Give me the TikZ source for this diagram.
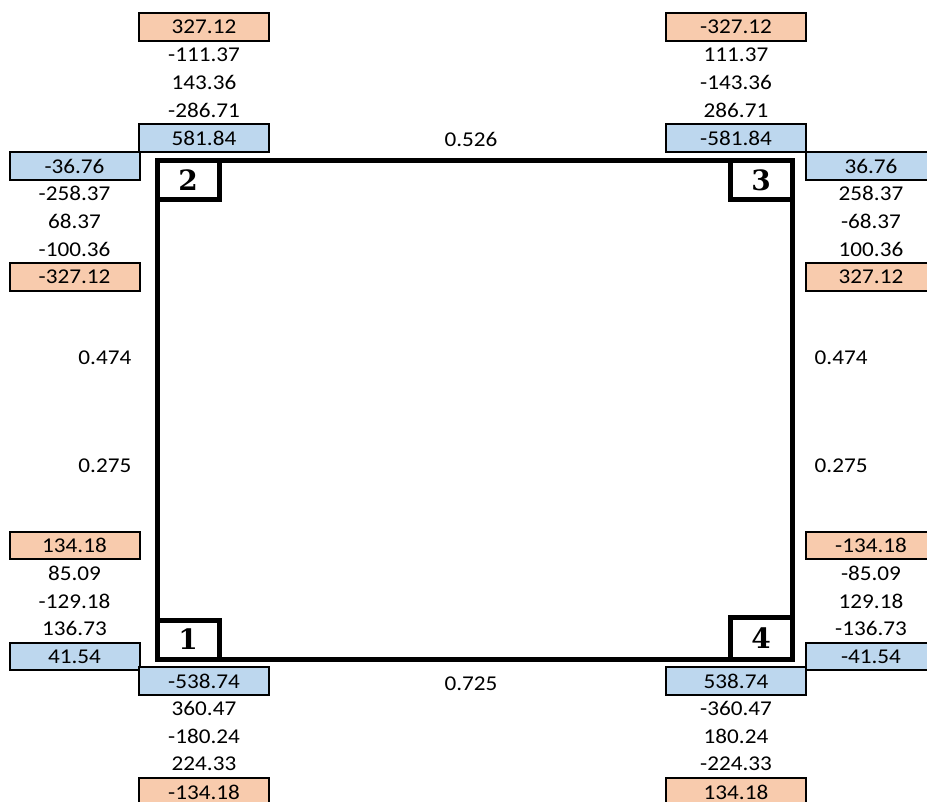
\documentclass[tikz,border=0pt]{standalone}
\usepackage{fontspec}
\setmainfont{Carlito}[FakeStretch=1.1]
\newfontfamily\jointfont{DejaVu Serif}
\usepackage{tikz}
\usetikzlibrary{positioning}

\definecolor{momentfill}{RGB}{248,203,173}
\definecolor{shearfill}{RGB}{189,215,238}

\tikzset{
  val/.style={inner sep=0pt, outer sep=0pt, minimum width=97.5pt, minimum height=20.8pt, font=\fontsize{15.8}{18}\selectfont},
  wide/.style={minimum width=105pt},
  mbox/.style={val, draw, line width=1.5pt, fill=momentfill},
  vbox/.style={val, draw, line width=1.5pt, fill=shearfill},
  joint/.style={draw, line width=3.75pt, inner sep=0pt, outer sep=0pt, minimum width=46.5pt, minimum height=29.25pt, font=\fontsize{21}{24}\selectfont\jointfont\bfseries},
  member/.style={line width=3.75pt, line join=miter}
}

\begin{document}
\begin{tikzpicture}[x=0.75pt, y=-0.75pt, node distance=0pt]
  \clip (0,0) rectangle (927,802);

  % joints
  \node (j2) [joint, anchor=north west] at (157,161) {2};
  \node (j3) [joint, anchor=north east] at (792,161) {3};
  \node (j1) [joint, anchor=south west] at (157,659) {1};
  \node (j4) [joint, anchor=south east, minimum height=31.5pt] at (792,659) {4};

  \draw[member] (j1.south west) -- (j2.north west) -- (j3.north east) -- (j4.south east) -- cycle;

  % member lengths
  \node (l23) at (471,139) {\fontsize{15.8}{18}\selectfont 0.526};
  \node (l14) at (471,684) {\fontsize{15.8}{18}\selectfont 0.725};
  \node (l12a) [anchor=east] at (136,358) {\fontsize{15.8}{18}\selectfont 0.474};
  \node (l12b) [anchor=east] at (136,466) {\fontsize{15.8}{18}\selectfont 0.275};
  \node (l34a) [anchor=west] at (810,358) {\fontsize{15.8}{18}\selectfont 0.474};
  \node (l34b) [anchor=west] at (810,466) {\fontsize{15.8}{18}\selectfont 0.275};

  % joint 2
  \node (up2a) [mbox] at (204,27) {327.12};
  \node (up2b) [below=of up2a, val] {-111.37};
  \node (up2c) [below=of up2b, val] {143.36};
  \node (up2d) [below=of up2c, val] {-286.71};
  \node (up2e) [below=of up2d, vbox] {581.84};
  \node (side2a) [vbox] at (74.5,166) {-36.76};
  \node (side2b) [below=of side2a, val] {-258.37};
  \node (side2c) [below=of side2b, val] {68.37};
  \node (side2d) [below=of side2c, val] {-100.36};
  \node (side2e) [below=of side2d, mbox] {-327.12};

  % joint 3
  \node (up3a) [mbox, wide] at (736,27) {-327.12};
  \node (up3b) [below=of up3a, val, wide] {111.37};
  \node (up3c) [below=of up3b, val, wide] {-143.36};
  \node (up3d) [below=of up3c, val, wide] {286.71};
  \node (up3e) [below=of up3d, vbox, wide] {-581.84};
  \node (side3a) [vbox] at (871,166) {36.76};
  \node (side3b) [below=of side3a, val] {258.37};
  \node (side3c) [below=of side3b, val] {-68.37};
  \node (side3d) [below=of side3c, val] {100.36};
  \node (side3e) [below=of side3d, mbox] {327.12};

  % joint 1
  \node (side1a) [mbox] at (74.5,545.5) {134.18};
  \node (side1b) [below=of side1a, val] {85.09};
  \node (side1c) [below=of side1b, val] {-129.18};
  \node (side1d) [below=of side1c, val] {136.73};
  \node (side1e) [below=of side1d, vbox] {41.54};
  \node (down1a) [vbox] at (204,681) {-538.74};
  \node (down1b) [below=of down1a, val] {360.47};
  \node (down1c) [below=of down1b, val] {-180.24};
  \node (down1d) [below=of down1c, val] {224.33};
  \node (down1e) [below=of down1d, mbox] {-134.18};

  % joint 4
  \node (side4a) [mbox] at (871,545.5) {-134.18};
  \node (side4b) [below=of side4a, val] {-85.09};
  \node (side4c) [below=of side4b, val] {129.18};
  \node (side4d) [below=of side4c, val] {-136.73};
  \node (side4e) [below=of side4d, vbox] {-41.54};
  \node (down4a) [vbox, wide] at (736,681) {538.74};
  \node (down4b) [below=of down4a, val, wide] {-360.47};
  \node (down4c) [below=of down4b, val, wide] {180.24};
  \node (down4d) [below=of down4c, val, wide] {-224.33};
  \node (down4e) [below=of down4d, mbox, wide] {134.18};
\end{tikzpicture}
\end{document}
